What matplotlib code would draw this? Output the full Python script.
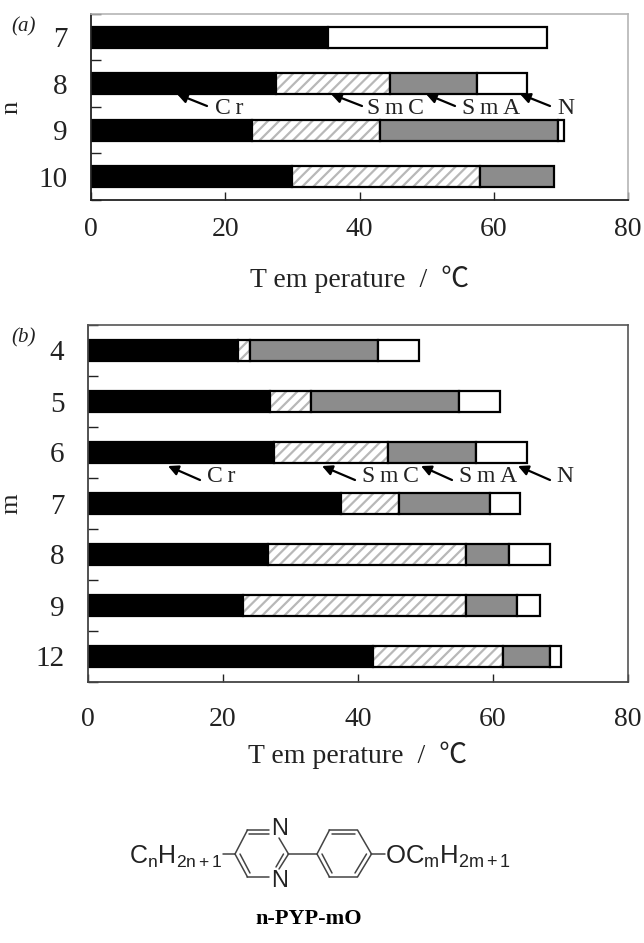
import matplotlib
matplotlib.use("Agg")
import matplotlib.pyplot as plt

plt.rcParams['font.family'] = ['Liberation Serif', 'Noto Sans CJK SC', 'DejaVu Sans']
plt.rcParams['hatch.linewidth'] = 1.6
plt.rcParams['mathtext.fontset'] = 'custom'
plt.rcParams['mathtext.rm'] = 'Liberation Sans'
plt.rcParams['mathtext.it'] = 'Liberation Sans'

W, H = 644, 943
XTICKS = [0, 20, 40, 60, 80]
XLABEL = 'T em perature  /  ℃'

n_labels = ['7', '8', '9', '10']
n_cr = [35.3, 27.6, 24.0, 30.0]
n_smc = [35.3, 44.5, 43.0, 58.0]
n_sma = [35.3, 57.5, 69.5, 69.0]
n_n = [68.0, 65.0, 70.5, 69.0]

m_labels = ['4', '5', '6', '7', '8', '9', '12']
m_cr = [22.2, 27.0, 27.6, 37.5, 26.7, 23.0, 42.2]
m_smc = [24.0, 33.0, 44.4, 46.0, 56.0, 56.0, 61.5]
m_sma = [43.0, 55.0, 57.5, 59.5, 62.3, 63.6, 68.4]
m_n = [49.0, 61.0, 65.0, 64.0, 68.5, 67.0, 70.0]


def panel(box, labels, cr, smc, sma, nem, bar_h, name, frame, pad, lab_pad):
    l, t, r, b = box
    ax = fig.add_axes([l / W, 1 - b / H, (r - l) / W, (b - t) / H])
    pos = list(range(len(labels)))
    for i in pos:
        ax.barh(i, cr[i], bar_h, color='black', edgecolor='black', lw=1.6)
        if smc[i] > cr[i]:
            ax.barh(i, smc[i] - cr[i], bar_h, left=cr[i], facecolor='white',
                    edgecolor='#b8b8b8', hatch='///', lw=0)
            ax.barh(i, smc[i] - cr[i], bar_h, left=cr[i], fill=False,
                    edgecolor='black', lw=1.6)
        if sma[i] > smc[i]:
            ax.barh(i, sma[i] - smc[i], bar_h, left=smc[i], color='#8c8c8c',
                    edgecolor='black', lw=1.6)
        if nem[i] > sma[i]:
            ax.barh(i, nem[i] - sma[i], bar_h, left=sma[i], color='white',
                    edgecolor='black', lw=1.6)
    ax.set_xlim(0, 80)
    ax.set_ylim(len(labels) - 0.5, -0.5)
    ax.set_xticks(XTICKS)
    ax.tick_params(axis='x', direction='in', length=6, width=1.0, pad=pad,
                   labelsize=20, colors='#222222')
    ax.set_yticks(pos)
    ax.set_yticklabels(labels, fontsize=21, color='#222222')
    ax.tick_params(axis='y', length=0, pad=17)
    ax.set_yticks([p - 0.5 for p in pos] + [pos[-1] + 0.5], minor=True)
    ax.tick_params(axis='y', which='minor', direction='in', length=7, width=1.0, color='#222222')
    ax.set_xlabel(XLABEL, fontsize=20, labelpad=lab_pad, color='#222222')
    ax.set_ylabel(name, fontsize=19, color='#222222')
    ax.yaxis.set_label_coords((22 - l) / (r - l), 0.5)
    for s in ('top', 'right'):
        ax.spines[s].set_color(frame)
        ax.spines[s].set_linewidth(1.2)
    for s in ('left', 'bottom'):
        ax.spines[s].set_color('#222222' if frame != '#555555' else '#444444')
        ax.spines[s].set_linewidth(1.3)
    return ax


fig = plt.figure(figsize=(W / 100, H / 100), dpi=100, facecolor='white')
panel((91, 14, 628, 200), n_labels, n_cr, n_smc, n_sma, n_n, 0.45, 'n', '#b5b5b5', 12, 17)
panel((88, 325, 628, 682), m_labels, m_cr, m_smc, m_sma, m_n, 0.42, 'm', '#555555', 18, 7)

ov = fig.add_axes([0, 0, 1, 1], facecolor='none')
ov.set_xlim(0, W)
ov.set_ylim(H, 0)
ov.axis('off')

ov.text(11, 27, '(a)', fontsize=15, style='italic', ha='left', va='center', color='#222222')
ov.text(11, 338, '(b)', fontsize=15, style='italic', ha='left', va='center', color='#222222')

phase_labels = ['C\u2009r', 'S\u2009m\u2009C', 'S\u2009m\u2009A', 'N']
for y_tip, y_tail, y_txt, tips, tails, txts in [
    (94, 106, 108, [177, 331, 426, 520], [207, 362, 455, 550], [215, 367, 462, 557]),
    (466, 480, 477, [168, 322, 421, 518], [200, 355, 452, 550], [207, 362, 459, 556]),
]:
    for lab, tip, tail, tx in zip(phase_labels, tips, tails, txts):
        ov.annotate('', xy=(tip, y_tip), xytext=(tail, y_tail),
                    arrowprops=dict(arrowstyle='-|>,head_length=0.6,head_width=0.3',
                                    color='black', lw=1.6, shrinkA=0, shrinkB=0))
        ov.text(tx, y_txt, lab, fontsize=17, ha='left', va='center', color='#222222')

# molecule
MC = '#444444'
def bond(x0, y0, x1, y1):
    ov.plot([x0, x1], [y0, y1], color=MC, lw=1.1, solid_capstyle='round')

bond(223, 854, 235, 854)
bond(235, 854, 247.5, 830); bond(247.5, 830, 269, 830); bond(249, 834, 269, 834)
bond(279, 838, 288.5, 854); bond(288.5, 854, 279, 869); bond(283.5, 854, 276, 867)
bond(269, 877, 247.5, 877); bond(247.5, 877, 235, 854); bond(250, 873, 240, 854)
bond(288.5, 854, 317, 854)
bond(317, 854, 329.5, 830); bond(329.5, 830, 357.5, 830); bond(332, 834, 355, 834)
bond(357.5, 830, 371.5, 854); bond(371.5, 854, 357.5, 877); bond(366.5, 854, 355, 873)
bond(357.5, 877, 329.5, 877); bond(329.5, 877, 317, 854); bond(332, 873, 322, 854)
bond(371.5, 854, 385, 854)
ov.text(280, 829, 'N', family='Liberation Sans', fontsize=17, ha='center', va='center', color='#222222')
ov.text(280, 881, 'N', family='Liberation Sans', fontsize=17, ha='center', va='center', color='#222222')
ov.text(222, 857, r'$\mathrm{C_nH_{2n+1}}$', fontsize=18, ha='right', va='center', color='#222222')
ov.text(385, 857, r'$\mathrm{OC_mH_{2m+1}}$', fontsize=18.5, ha='left', va='center', color='#222222')
ov.text(309, 919, 'n-PYP-mO', fontsize=16, weight='bold', ha='center', va='center', color='black')

fig.savefig('out.png', dpi=100)
